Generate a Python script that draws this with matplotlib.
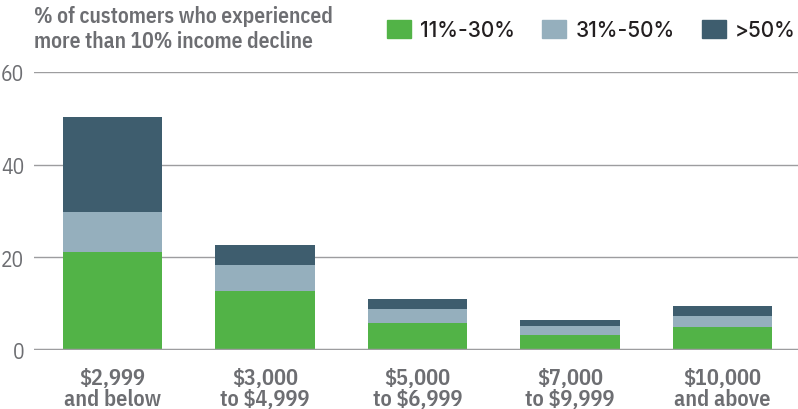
import numpy as np
import matplotlib.pyplot as plt
from matplotlib.patches import Patch

# Data
categories = ['$2,999\nand below', '$3,000\nto $4,999', '$5,000\nto $6,999',
              '$7,000\nto $9,999', '$10,000\nand above']
low = [21.2, 12.7, 5.8, 3.2, 5.0]      # 11%-30%
mid = [8.6, 5.7, 3.1, 2.0, 2.3]        # 31%-50%
high = [20.5, 4.3, 2.1, 1.3, 2.2]      # >50%
series_names = ['11%-30%', '31%-50%', '>50%']
yticks = [0, 20, 40, 60]

colors = ['#52b347', '#95afbd', '#3e5d6e']
gray = '#6d6e72'
cond = ['IBM Plex Sans Condensed', 'Archivo Narrow', 'DejaVu Sans']
legend_font = ['Inter', 'DejaVu Sans']

fig = plt.figure(figsize=(7.98, 4.10), dpi=100)
ax = fig.add_axes([0.0426, 0.144, 0.9574, 0.678])

x = np.arange(len(categories))
w = 0.65
bottom = np.zeros(len(categories))
for vals, c in zip([low, mid, high], colors):
    ax.bar(x, vals, w, bottom=bottom, color=c, zorder=3)
    bottom += np.array(vals)

ax.set_xlim(-0.515, 4.495)
ax.set_ylim(0, 60)
ax.set_yticks(yticks)
ax.set_yticklabels([str(v) for v in yticks], family=cond, fontsize=15.5, color=gray)
ax.set_xticks(x)
ax.set_xticklabels(categories, family=cond, fontsize=16, color=gray,
                   fontweight=600, linespacing=1.0)
ax.tick_params(axis='both', length=0)
ax.tick_params(axis='y', pad=7)
ax.tick_params(axis='x', pad=12)

for s in ax.spines.values():
    s.set_visible(False)
ax.grid(axis='y', color='#9d9d9f', lw=1, zorder=1)
ax.axhline(0, color='#9d9d9f', lw=2.5, zorder=4)

fig.text(0.0426, 0.985, '% of customers who experienced\nmore than 10% income decline',
         family=cond, fontsize=15.5, fontweight=600, color=gray,
         va='top', ha='left', linespacing=1.2)

handles = [Patch(color=c) for c in colors]
fig.legend(handles, series_names, loc='upper right', bbox_to_anchor=(1.0, 0.955),
           ncol=3, frameon=False, prop={'family': legend_font, 'size': 15, 'weight': 500},
           handlelength=1.15, handleheight=0.95, handletextpad=0.45,
           columnspacing=1.3, borderaxespad=0, borderpad=0.1,
           labelcolor='#231f20')

fig.savefig('out.png', dpi=100)
